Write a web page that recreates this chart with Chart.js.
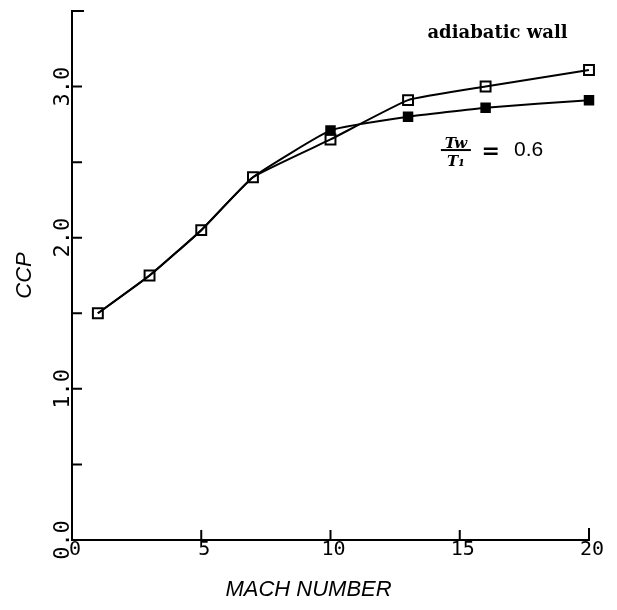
<!DOCTYPE html>
<html>
<head>
<meta charset="utf-8">
<script src="https://cdn.jsdelivr.net/npm/chart.js@4/dist/chart.umd.min.js"></script>
<style>
  html, body { margin: 0; padding: 0; background: #ffffff; }
  #wrap { width: 617px; height: 610px; position: relative; }
</style>
</head>
<body>
<div id="wrap"><canvas id="c" width="617" height="610"></canvas></div>
<script>
// ---- data ----
const machNumbers   = [1, 3, 5, 7, 10, 13, 16, 20];
const adiabaticWall = [1.50, 1.75, 2.05, 2.40, 2.65, 2.91, 3.00, 3.11];
const coldWall06    = [1.50, 1.75, 2.05, 2.40, 2.71, 2.80, 2.86, 2.91];
const coldWallMarkerShown = [false, false, false, false, true, true, true, true];
const xTickValues = [0, 5, 10, 15, 20];
const yMajorLabels = ['0.0', '1.0', '2.0', '3.0'];
const xAxisTitle = 'MACH NUMBER';
const yAxisTitle = 'CCP';
const annotationLabel = 'adiabatic wall';
const ratioNumerator = 'Tw';
const ratioDenominator = 'T₁';
const ratioValue = '0.6';

const toXY = (xs, ys) => xs.map((x, i) => ({ x: x, y: ys[i] }));

const inwardTicks = {
  id: 'inwardTicks',
  afterDatasetsDraw(chart) {
    const { ctx, chartArea: a, scales: { x, y } } = chart;
    ctx.save();
    ctx.strokeStyle = '#000';
    ctx.lineWidth = 2;
    ctx.beginPath();
    y.ticks.forEach(t => {
      if (t.value === 0) return;
      const py = y.getPixelForValue(t.value);
      const len = (t.value === y.max) ? 12 : 10;
      ctx.moveTo(a.left, py); ctx.lineTo(a.left + len, py);
    });
    x.ticks.forEach(t => {
      if (t.value === 0) return;
      const px = x.getPixelForValue(t.value);
      const len = (t.value === x.max) ? 12 : 10;
      ctx.moveTo(px, a.bottom); ctx.lineTo(px, a.bottom - len);
    });
    ctx.stroke();
    ctx.restore();
  }
};

const annotations = {
  id: 'annotations',
  afterDraw(chart) {
    const { ctx, scales: { x, y } } = chart;
    ctx.save();
    ctx.fillStyle = '#000';
    // "adiabatic wall"
    ctx.font = 'bold 18px "DejaVu Serif"';
    ctx.textAlign = 'left';
    ctx.textBaseline = 'alphabetic';
    ctx.fillText(annotationLabel, x.getPixelForValue(13.75), y.getPixelForValue(3.32));
    // fraction Tw / T1
    const cx = x.getPixelForValue(14.85);
    const barY = y.getPixelForValue(2.58);
    ctx.font = 'bold italic 15px "DejaVu Serif"';
    ctx.textAlign = 'center';
    ctx.textBaseline = 'alphabetic';
    ctx.fillText(ratioNumerator, cx, barY - 2);
    ctx.fillText(ratioDenominator, cx, barY + 16);
    ctx.lineWidth = 2;
    ctx.strokeStyle = '#000';
    ctx.beginPath();
    ctx.moveTo(cx - 15, barY); ctx.lineTo(cx + 15, barY);
    ctx.stroke();
    // "= 0.6"
    ctx.font = 'bold 22px "DejaVu Sans"';
    ctx.textBaseline = 'middle';
    ctx.fillText('=', x.getPixelForValue(16.2), barY + 2);
    ctx.font = '21px "Liberation Sans"';
    ctx.textAlign = 'left';
    ctx.fillText(ratioValue, x.getPixelForValue(17.1), barY);
    ctx.restore();
  }
};

new Chart(document.getElementById('c'), {
  type: 'line',
  data: {
    datasets: [
      {
        label: 'adiabatic wall',
        data: toXY(machNumbers, adiabaticWall),
        borderColor: '#000',
        borderWidth: 2,
        tension: 0.12,
        pointStyle: 'rect',
        pointRadius: 7,
        pointBorderWidth: 2,
        pointBorderColor: '#000',
        pointBackgroundColor: 'rgba(255,255,255,0)',
        clip: false
      },
      {
        label: 'Tw/T1 = 0.6',
        data: toXY(machNumbers, coldWall06),
        borderColor: '#000',
        borderWidth: 2,
        tension: 0.12,
        pointStyle: 'rect',
        pointRadius: coldWallMarkerShown.map(s => s ? 6 : 0),
        pointBorderWidth: 2,
        pointBorderColor: '#000',
        pointBackgroundColor: '#000',
        clip: false
      }
    ]
  },
  options: {
    responsive: false,
    animation: false,
    devicePixelRatio: 1,
    layout: { padding: { left: 28, right: 28, top: 11, bottom: 0 } },
    plugins: {
      legend: { display: false },
      tooltip: { enabled: false },
      title: {
        display: true,
        text: xAxisTitle,
        position: 'bottom',
        align: 'center',
        color: '#000',
        font: { family: '"Liberation Sans"', size: 22, style: 'italic', weight: 'normal', lineHeight: 1.2 },
        padding: { top: 0, bottom: 7 }
      }
    },
    scales: {
      x: {
        type: 'linear',
        min: 0, max: 20,
        afterBuildTicks: s => { s.ticks = xTickValues.map(v => ({ value: v })); },
        ticks: {
          color: '#000',
          font: { family: '"DejaVu Sans Mono"', size: 20 },
          padding: -2,
          labelOffset: 3,
          maxRotation: 0, minRotation: 0,
          callback: v => String(v)
        },
        grid: { display: true, drawOnChartArea: false, drawTicks: false },
        border: { display: true, color: '#000', width: 2 },
        afterFit: s => { s.height = 36.6; s.paddingLeft = 0; s.paddingRight = 0; }
      },
      y: {
        type: 'linear',
        min: 0, max: 3.5,
        ticks: {
          stepSize: 0.5,
          color: '#000',
          font: { family: '"DejaVu Sans Mono"', size: 22 },
          minRotation: 90, maxRotation: 90,
          crossAlign: 'center',
          padding: -11,
          callback: v => {
            const r = Math.round(v);
            return Math.abs(v - r) < 1e-9 && r < yMajorLabels.length ? yMajorLabels[r] : '';
          }
        },
        grid: { display: true, drawOnChartArea: false, drawTicks: false },
        border: { display: true, color: '#000', width: 2 },
        title: {
          display: true,
          text: yAxisTitle,
          color: '#000',
          font: { family: '"Liberation Sans"', size: 22, style: 'italic', lineHeight: 1.2 },
          padding: { top: -16, bottom: 0 }
        },
        afterFit: s => { s.width = 44; s.paddingTop = 0; s.paddingBottom = 0; }
      }
    }
  },
  plugins: [inwardTicks, annotations]
});
</script>
</body>
</html>
